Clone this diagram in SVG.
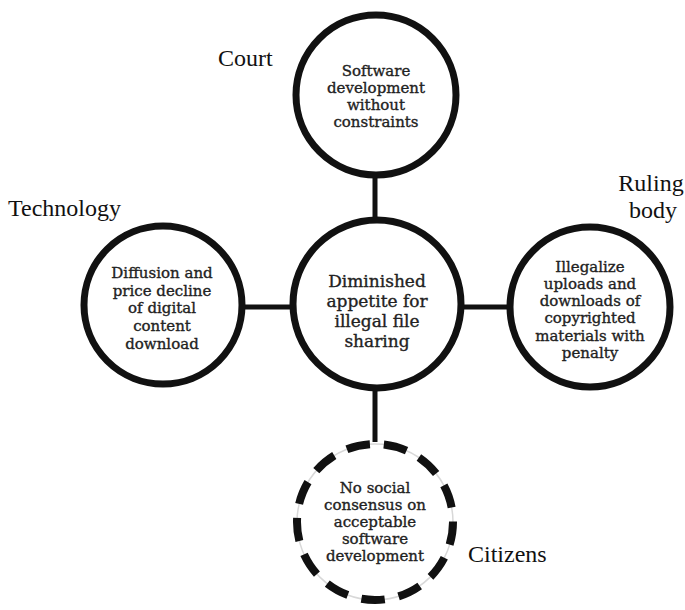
<svg xmlns="http://www.w3.org/2000/svg" width="685" height="610" viewBox="0 0 685 610">
<style>
.c{fill:#fff;stroke:#111;stroke-width:7}
.d{fill:none;stroke:#111;stroke-width:8;stroke-dasharray:25 15;stroke-dashoffset:0.5}
.t{font-family:"DejaVu Serif","Liberation Serif",serif;font-size:15px;fill:#222;stroke:#222;stroke-width:0.35;text-anchor:middle}
.tc{font-family:"DejaVu Serif","Liberation Serif",serif;font-size:17px;fill:#222;stroke:#222;stroke-width:0.35;text-anchor:middle}
.l{font-family:"Liberation Serif","Times New Roman",serif;font-size:24px;fill:#111}
.k{stroke:#111;stroke-width:5;fill:none}
</style>
<g id="connectors">
<line class="k" x1="375" y1="176" x2="375" y2="220"/>
<line class="k" x1="242" y1="307" x2="293" y2="307"/>
<line class="k" x1="461" y1="307" x2="510" y2="307"/>
<line class="k" x1="375" y1="388" x2="375" y2="442"/>
</g>
<g id="court">
<circle class="c" cx="376" cy="95" r="80"/>
<text class="t" x="376" y="76">Software</text>
<text class="t" x="376" y="93">development</text>
<text class="t" x="376" y="110">without</text>
<text class="t" x="376" y="127">constraints</text>
<text class="l" x="218" y="66">Court</text>
</g>
<g id="technology">
<circle class="c" cx="163" cy="305" r="79"/>
<text class="t" x="162" y="278">Diffusion and</text>
<text class="t" x="162" y="296">price decline</text>
<text class="t" x="162" y="313">of digital</text>
<text class="t" x="162" y="331">content</text>
<text class="t" x="162" y="349">download</text>
<text class="l" x="8" y="216">Technology</text>
</g>
<g id="center">
<circle class="c" cx="377" cy="304" r="84"/>
<text class="tc" x="377" y="287">Diminished</text>
<text class="tc" x="377" y="307">appetite for</text>
<text class="tc" x="377" y="327">illegal file</text>
<text class="tc" x="377" y="347">sharing</text>
</g>
<g id="ruling">
<circle class="c" cx="590" cy="307" r="80"/>
<text class="t" x="590" y="272">Illegalize</text>
<text class="t" x="590" y="289">uploads and</text>
<text class="t" x="590" y="306">downloads of</text>
<text class="t" x="590" y="323">copyrighted</text>
<text class="t" x="590" y="341">materials with</text>
<text class="t" x="590" y="358">penalty</text>
<text class="l" x="651" y="191" text-anchor="middle">Ruling</text>
<text class="l" x="653" y="218" text-anchor="middle">body</text>
</g>
<g id="citizens">
<circle cx="375" cy="522" r="78" fill="#fff" stroke="#d8d8d8" stroke-width="1.5"/>
<circle class="d" cx="375" cy="522" r="78" pathLength="520"/>
<text class="t" x="375" y="493">No social</text>
<text class="t" x="375" y="510">consensus on</text>
<text class="t" x="375" y="527">acceptable</text>
<text class="t" x="375" y="544">software</text>
<text class="t" x="375" y="561">development</text>
<text class="l" x="468" y="562">Citizens</text>
</g>
</svg>
